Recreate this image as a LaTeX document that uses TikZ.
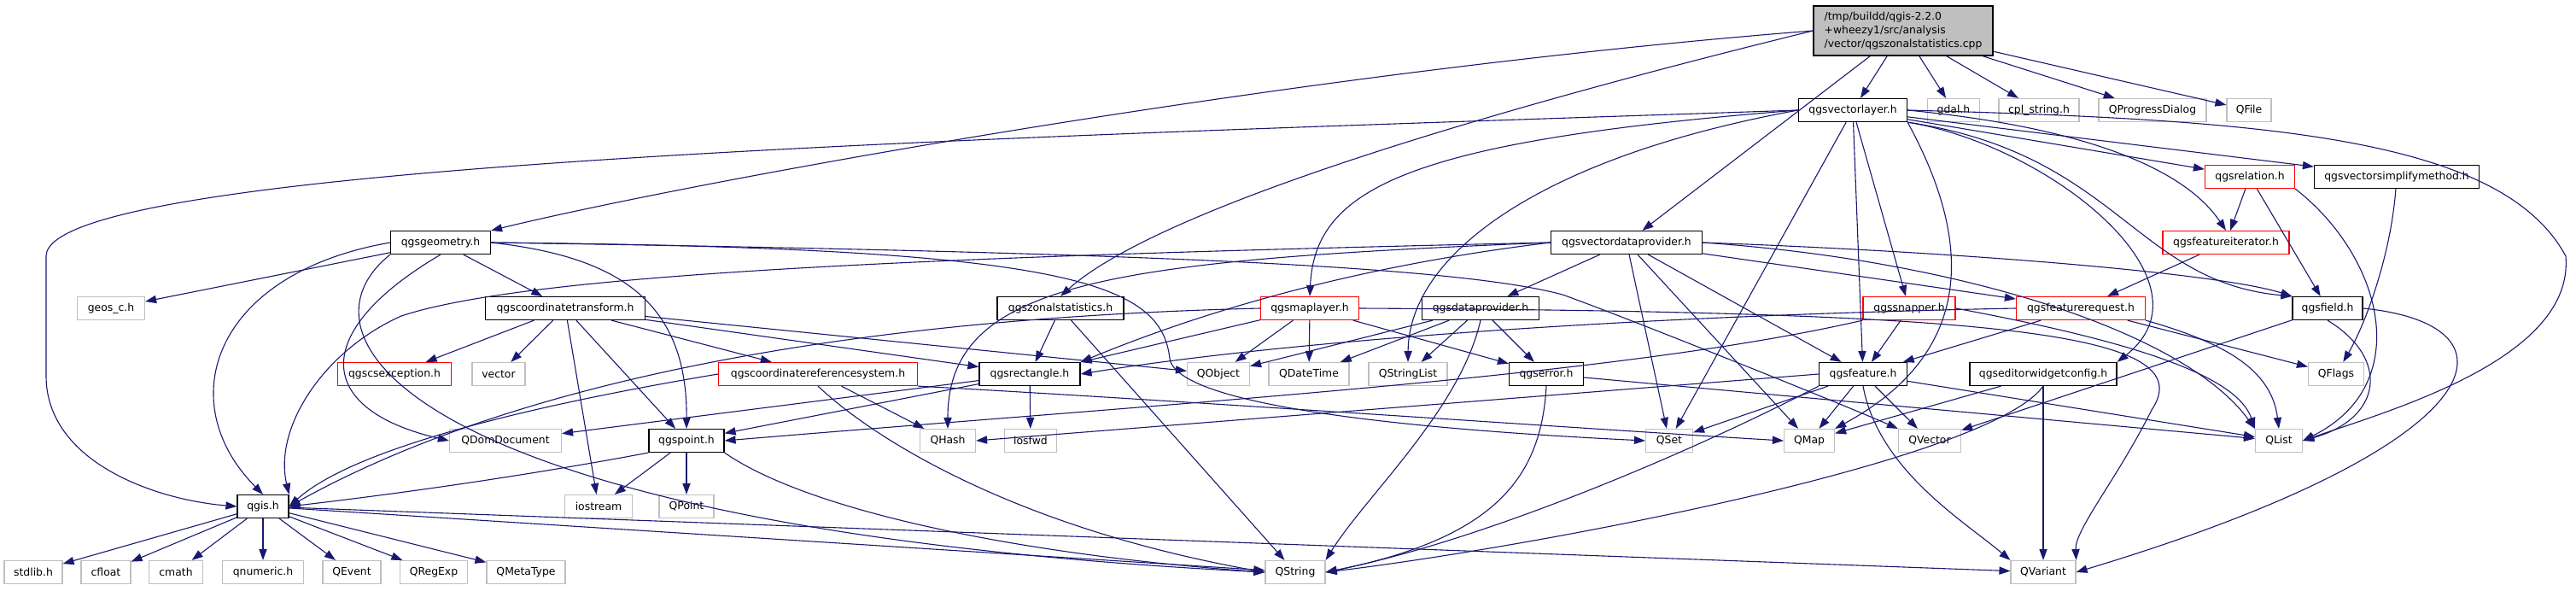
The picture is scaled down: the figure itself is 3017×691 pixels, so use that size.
\documentclass[tikz,border=0pt]{standalone}
\usepackage{fontspec}
\setmainfont{DejaVu Sans}
\usetikzlibrary{arrows.meta}
\definecolor{edgec}{HTML}{191970}
\definecolor{extc}{HTML}{BFBFBF}
\definecolor{truncc}{HTML}{FF0000}
\definecolor{rootfillc}{HTML}{BFBFBF}
\tikzset{
  filenode/.style={rectangle, draw=black, fill=white, line width=0.6pt,
    minimum height=13.5pt, inner sep=0pt, font=\fontsize{6.2}{8}\selectfont},
  boxw/.style={minimum width=#1*0.5pt},
  docnode/.style={filenode},
  extnode/.style={filenode, draw=extc},
  truncnode/.style={filenode, draw=truncc},
  rootnode/.style={filenode, fill=rootfillc, align=left, minimum height=29pt},
  inclink/.style={-{Triangle[length=6.5pt, width=4.6pt]}, draw=edgec, line width=0.55pt},
}

\begin{document}
\begin{tikzpicture}[x=0.5pt, y=-0.5pt]
  \useasboundingbox (0,0) rectangle (3017,691);
  % ranks, top to bottom
  \node[rootnode, boxw=210] (rootfile) at (2229,36) {/tmp/buildd/qgis-2.2.0\\+wheezy1/src/analysis\\/vector/qgszonalstatistics.cpp};
  \node[docnode, boxw=127] (vl) at (2170,129) {qgsvectorlayer.h};
  \node[extnode, boxw=61] (gdal) at (2288,129) {gdal.h};
  \node[extnode, boxw=94] (cplstr) at (2388,129) {cpl\_string.h};
  \node[extnode, boxw=126] (qprogress) at (2521,129) {QProgressDialog};
  \node[extnode, boxw=52] (qfile) at (2634,129) {QFile};
  \node[truncnode, boxw=105] (relation) at (2635,207) {qgsrelation.h};
  \node[docnode, boxw=193] (simplify) at (2807,207) {qgsvectorsimplifymethod.h};
  \node[docnode, boxw=117] (geom) at (516,284) {qgsgeometry.h};
  \node[docnode, boxw=177] (vdp) at (1905,284) {qgsvectordataprovider.h};
  \node[truncnode, boxw=148] (fiter) at (2607,284) {qgsfeatureiterator.h};
  \node[extnode, boxw=79] (geosc) at (130,361) {geos\_c.h};
  \node[docnode, boxw=187] (ctrans) at (662,361) {qgscoordinatetransform.h};
  \node[docnode, boxw=148] (zonal) at (1242,361) {qgszonalstatistics.h};
  \node[truncnode, boxw=115] (maplayer) at (1534,361) {qgsmaplayer.h};
  \node[docnode, boxw=137] (dprov) at (1734,361) {qgsdataprovider.h};
  \node[truncnode, boxw=108] (snapper) at (2236,361) {qgssnapper.h};
  \node[truncnode, boxw=151] (freq) at (2437,361) {qgsfeaturerequest.h};
  \node[docnode, boxw=82] (field) at (2726,361) {qgsfield.h};
  \node[truncnode, boxw=133] (csexc) at (462,438) {qgscsexception.h};
  \node[extnode, boxw=62] (vector) at (584,438) {vector};
  \node[truncnode, boxw=233] (crs) at (958,438) {qgscoordinatereferencesystem.h};
  \node[docnode, boxw=118] (rect) at (1206,438) {qgsrectangle.h};
  \node[extnode, boxw=73] (qobject) at (1427,438) {QObject};
  \node[extnode, boxw=94] (qdatetime) at (1533,438) {QDateTime};
  \node[extnode, boxw=92] (qstringlist) at (1649,438) {QStringList};
  \node[docnode, boxw=87] (error) at (1811,438) {qgserror.h};
  \node[docnode, boxw=103] (feature) at (2182,438) {qgsfeature.h};
  \node[docnode, boxw=172] (editor) at (2393,438) {qgseditorwidgetconfig.h};
  \node[extnode, boxw=65] (qflags) at (2736,438) {QFlags};
  \node[extnode, boxw=131] (qdomdoc) at (592,516) {QDomDocument};
  \node[docnode, boxw=88] (point) at (804,516) {qgspoint.h};
  \node[extnode, boxw=65] (qhash) at (1110,516) {QHash};
  \node[extnode, boxw=61] (iosfwd) at (1207,516) {iosfwd};
  \node[extnode, boxw=55] (qset) at (1955,516) {QSet};
  \node[extnode, boxw=59] (qmap) at (2119,516) {QMap};
  \node[extnode, boxw=73] (qvector) at (2260,516) {QVector};
  \node[extnode, boxw=55] (qlist) at (2669,516) {QList};
  \node[docnode, boxw=60] (qgis) at (308,593) {qgis.h};
  \node[extnode, boxw=79] (iostream) at (701,593) {iostream};
  \node[extnode, boxw=64] (qpoint) at (804,593) {QPoint};
  \node[extnode, boxw=68] (stdlib) at (39,670) {stdlib.h};
  \node[extnode, boxw=58] (cfloat) at (124,670) {cfloat};
  \node[extnode, boxw=63] (cmath) at (206,670) {cmath};
  \node[extnode, boxw=95] (qnumeric) at (308,670) {qnumeric.h};
  \node[extnode, boxw=68] (qevent) at (412,670) {QEvent};
  \node[extnode, boxw=79] (qregexp) at (508,670) {QRegExp};
  \node[extnode, boxw=92] (qmetatype) at (616,670) {QMetaType};
  \node[extnode, boxw=70] (qstring) at (1517,670) {QString};
  \node[extnode, boxw=76] (qvariant) at (2393,670) {QVariant};

  % includes of the .cpp
  \draw[inclink] (rootfile) -- (vl);
  \draw[inclink] (rootfile) -- (gdal);
  \draw[inclink] (rootfile) -- (cplstr);
  \draw[inclink] (rootfile) -- (qprogress);
  \draw[inclink] (rootfile) -- (qfile);
  \draw[inclink] (rootfile.west) .. controls (1500,85) and (800,215) .. (geom.north east);
  \draw[inclink] (rootfile.west) .. controls (1700,140) and (1350,250) .. (zonal.north);
  \draw[inclink] (rootfile) -- (vdp);

  % qgsvectorlayer.h
  \draw[inclink] (vl.west) .. controls (1200,160) and (54,190) .. (54,300) -- (54,440)
    .. controls (54,540) and (180,585) .. (qgis.west);
  \draw[inclink] (vl.west) .. controls (1650,165) and (1540,220) .. (maplayer.north);
  \draw[inclink] (vl.west) .. controls (1800,185) and (1650,300) .. (qstringlist.north);
  \draw[inclink] (vl) -- (qset);
  \draw[inclink] (vl) -- (feature);
  \draw[inclink] (vl) -- (snapper);
  \draw[inclink] (vl) -- (relation);
  \draw[inclink] (vl) -- (simplify);
  \draw[inclink] (vl.east) .. controls (2450,150) and (2560,200) .. (fiter.north);
  \draw[inclink] (vl.south east) .. controls (2480,180) and (2500,330) .. (field.north west);
  \draw[inclink] (vl.south east) .. controls (2400,170) and (2600,330) .. (editor.north east);
  \draw[inclink] (vl.east) .. controls (2650,140) and (2930,160) .. (3005,300)
    .. controls (3015,420) and (2800,480) .. (qlist.east);
  \draw[inclink] (vl.south east) .. controls (2320,300) and (2300,420) .. (qmap.north east);

  % qgsrelation.h, qgsvectorsimplifymethod.h, qgsfeatureiterator.h
  \draw[inclink] (relation) -- (fiter);
  \draw[inclink] (relation) -- (field);
  \draw[inclink] (relation.south east) .. controls (2790,300) and (2830,450) .. (qlist.east);
  \draw[inclink] (simplify) .. controls (2800,300) and (2770,380) .. (qflags);
  \draw[inclink] (fiter) -- (freq);

  % qgsgeometry.h
  \draw[inclink] (geom) -- (geosc);
  \draw[inclink] (geom.west) .. controls (250,320) and (200,470) .. (qgis.north);
  \draw[inclink] (geom.south west) .. controls (330,400) and (500,620) .. (qstring.west);
  \draw[inclink] (geom.south) .. controls (360,390) and (370,480) .. (qdomdoc.west);
  \draw[inclink] (geom) -- (ctrans);
  \draw[inclink] (geom.east) .. controls (720,300) and (805,350) .. (point.north);
  \draw[inclink] (geom.east) .. controls (1250,290) and (1360,330) .. (1370,420)
    .. controls (1380,480) and (1700,505) .. (qset.west);
  \draw[inclink] (geom.east) .. controls (1300,295) and (1700,310) .. (1830,345)
    .. controls (1900,370) and (2150,470) .. (qvector.north west);

  % qgsvectordataprovider.h
  \draw[inclink] (vdp) -- (dprov);
  \draw[inclink] (vdp) -- (qset);
  \draw[inclink] (vdp) -- (qmap);
  \draw[inclink] (vdp) -- (feature);
  \draw[inclink] (vdp) -- (freq);
  \draw[inclink] (vdp.east) .. controls (2300,295) and (2600,320) .. (field.north west);
  \draw[inclink] (vdp.east) .. controls (2300,305) and (2560,390) .. (qlist.north west);
  \draw[inclink] (vdp.west) .. controls (1100,300) and (620,320) .. (470,370)
    .. controls (380,410) and (320,500) .. (qgis.north east);
  \draw[inclink] (vdp.west) .. controls (1600,310) and (1420,360) .. (rect.north east);
  \draw[inclink] (vdp.west) .. controls (1300,305) and (1110,330) .. (qhash.north);

  % second rank headers
  \draw[inclink] (zonal) -- (rect);
  \draw[inclink] (zonal) -- (qstring);
  \draw[inclink] (maplayer) -- (qobject);
  \draw[inclink] (maplayer) -- (rect);
  \draw[inclink] (maplayer) -- (qdatetime);
  \draw[inclink] (maplayer) -- (error);
  \draw[inclink] (maplayer.west) .. controls (1100,370) and (650,420) .. (qgis.east);
  \draw[inclink] (maplayer.east) .. controls (2350,365) and (2580,390) .. (2520,480)
    .. controls (2480,560) and (2430,620) .. (qvariant.north east);
  \draw[inclink] (dprov) -- (qdatetime);
  \draw[inclink] (dprov) -- (qstringlist);
  \draw[inclink] (dprov) -- (error);
  \draw[inclink] (dprov) -- (qobject);
  \draw[inclink] (dprov.south) .. controls (1710,480) and (1600,580) .. (qstring.north east);
  \draw[inclink] (snapper) -- (feature);
  \draw[inclink] (snapper.south west) .. controls (1900,440) and (1400,470) .. (point.east);
  \draw[inclink] (snapper.east) .. controls (2500,400) and (2620,440) .. (qlist.north west);
  \draw[inclink] (freq) -- (qflags);
  \draw[inclink] (freq.south east) .. controls (2600,400) and (2660,430) .. (qlist.north);
  \draw[inclink] (freq) -- (feature);
  \draw[inclink] (freq.west) .. controls (1900,370) and (1500,400) .. (rect.east);
  \draw[inclink] (field) -- (qvector);
  \draw[inclink] (field.south) .. controls (2800,420) and (2790,490) .. (qlist.east);
  \draw[inclink] (field.east) .. controls (2960,380) and (2930,520) .. (qvariant.east);
  \draw[inclink] (ctrans) -- (csexc);
  \draw[inclink] (ctrans) -- (vector);
  \draw[inclink] (ctrans) -- (iostream);
  \draw[inclink] (ctrans) -- (point);
  \draw[inclink] (ctrans) -- (crs);
  \draw[inclink] (ctrans) -- (rect);
  \draw[inclink] (ctrans) -- (qobject);

  % third rank headers
  \draw[inclink] (crs) -- (qhash);
  \draw[inclink] (crs.south) .. controls (1030,520) and (1200,620) .. (qstring.west);
  \draw[inclink] (crs.west) .. controls (650,470) and (420,520) .. (qgis.east);
  \draw[inclink] (crs.south east) .. controls (1400,470) and (1900,505) .. (qmap.west);
  \draw[inclink] (rect) -- (qdomdoc);
  \draw[inclink] (rect) -- (point);
  \draw[inclink] (rect) -- (iosfwd);
  \draw[inclink] (error.south) .. controls (1805,560) and (1750,630) .. (qstring.east);
  \draw[inclink] (error) -- (qlist);
  \draw[inclink] (feature) -- (qset);
  \draw[inclink] (feature) -- (qmap);
  \draw[inclink] (feature) -- (qvector);
  \draw[inclink] (feature) -- (qlist);
  \draw[inclink] (feature.west) -- (qhash.east);
  \draw[inclink] (feature.south west) .. controls (2000,520) and (1750,630) .. (qstring.east);
  \draw[inclink] (feature.south) .. controls (2200,550) and (2300,610) .. (qvariant.north west);
  \draw[inclink] (editor) -- (qmap);
  \draw[inclink] (editor.south) .. controls (2330,540) and (1800,640) .. (qstring.east);
  \draw[inclink] (editor) -- (qvariant);
  \draw[inclink] (point) -- (qpoint);
  \draw[inclink] (point) -- (iostream);
  \draw[inclink] (point.south west) .. controls (600,560) and (450,580) .. (qgis.east);
  \draw[inclink] (point.south east) .. controls (950,600) and (1200,650) .. (qstring.west);

  % qgis.h
  \draw[inclink] (qgis) -- (stdlib);
  \draw[inclink] (qgis) -- (cfloat);
  \draw[inclink] (qgis) -- (cmath);
  \draw[inclink] (qgis) -- (qnumeric);
  \draw[inclink] (qgis) -- (qevent);
  \draw[inclink] (qgis) -- (qregexp);
  \draw[inclink] (qgis) -- (qmetatype);
  \draw[inclink] (qgis) -- (qstring);
  \draw[inclink] (qgis) -- (qvariant);
\end{tikzpicture}
\end{document}
